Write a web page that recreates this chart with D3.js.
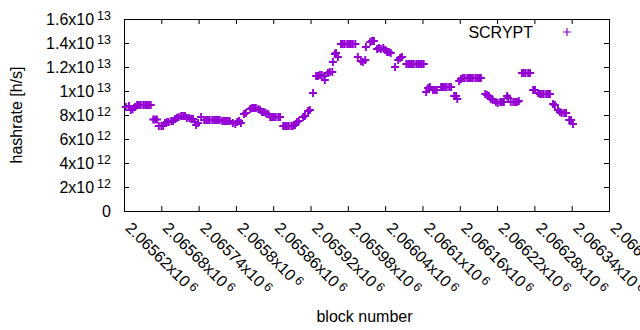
<!DOCTYPE html>
<html>
<head>
<meta charset="utf-8">
<script src="https://cdn.jsdelivr.net/npm/d3@7"></script>
<style>
  body { margin: 0; background: #fff; }
  svg text { font-family: "Liberation Sans", Arial, sans-serif; fill: #000; }
</style>
</head>
<body>
<div id="chart"></div>
<script>
// block numbers and estimated hashrate (in 1e12 h/s)
const blockNumbers = [
  2065623, 2065628, 2065631, 2065634, 2065638,
  2065641, 2065644, 2065647, 2065651, 2065654, 2065657, 2065660, 2065663,
  2065667, 2065670, 2065673,
  2065676, 2065680, 2065683,
  2065686, 2065689, 2065692, 2065696, 2065699,
  2065702, 2065705, 2065708, 2065712, 2065715, 2065718,
  2065721, 2065725, 2065728, 2065731,
  2065734, 2065736, 2065739,
  2065744,
  2065749, 2065752, 2065755, 2065758, 2065762, 2065765, 2065768, 2065771, 2065774, 2065778, 2065781, 2065784, 2065787, 2065790,
  2065795, 2065799, 2065802, 2065805, 2065808,
  2065813, 2065816,
  2065823, 2065826, 2065829, 2065832, 2065836, 2065839,
  2065842, 2065845, 2065848, 2065852,
  2065855, 2065858, 2065861, 2065864, 2065868, 2065871,
  2065876, 2065879, 2065882, 2065885, 2065889, 2065892, 2065895,
  2065898, 2065901,
  2065908, 2065911,
  2065916, 2065919,
  2065924,
  2065929, 2065932, 2065935, 2065938, 2065942, 2065943,
  2065948, 2065951, 2065955,
  2065956, 2065959, 2065961, 2065964,
  2065969, 2065972, 2065975, 2065979, 2065982, 2065985, 2065988, 2065992,
  2065996, 2066001, 2066004, 2066008,
  2066009, 2066016, 2066019, 2066022,
  2066027, 2066030, 2066033, 2066037, 2066040,
  2066043, 2066046, 2066049,
  2066056,
  2066061, 2066064, 2066067,
  2066074, 2066077, 2066080, 2066083, 2066086, 2066090, 2066093, 2066096, 2066099, 2066102,
  2066106, 2066109, 2066112,
  2066117, 2066120, 2066123,
  2066130, 2066133, 2066136, 2066139, 2066143, 2066146,
  2066151, 2066154, 2066156,
  2066159, 2066162, 2066165,
  2066168, 2066172, 2066175, 2066178, 2066181, 2066185, 2066188, 2066191, 2066194,
  2066201, 2066204, 2066207,
  2066210, 2066213,
  2066218, 2066221, 2066225, 2066228, 2066231,
  2066236, 2066238,
  2066242, 2066246, 2066249, 2066252, 2066255,
  2066260, 2066263, 2066266, 2066270, 2066273,
  2066278, 2066281,
  2066286, 2066289, 2066292, 2066295, 2066299, 2066302, 2066305,
  2066310, 2066313,
  2066318, 2066321, 2066324, 2066328, 2066331,
  2066336, 2066339, 2066342
];

const hashrate = [
  8.67, 8.75, 8.42, 8.5, 8.67,
  8.83, 8.83, 8.83, 8.83, 8.83, 8.83, 8.83, 8.83,
  7.62, 7.62, 7.62,
  7.08, 7.08, 7.08,
  7.33, 7.42, 7.42, 7.5, 7.5,
  7.67, 7.75, 7.83, 7.92, 7.92, 7.92,
  7.75, 7.75, 7.67, 7.67,
  7.42, 7.17, 7.33,
  7.83,
  7.58, 7.58, 7.58, 7.58, 7.58, 7.58, 7.58, 7.58, 7.58, 7.5, 7.5, 7.5, 7.5, 7.5,
  7.33, 7.25, 7.42, 7.5, 7.33,
  8.08, 8.17,
  8.5, 8.58, 8.58, 8.58, 8.5, 8.42,
  8.25, 8.25, 8.17, 8.08,
  7.83, 7.83, 7.83, 7.83, 7.83, 7.83,
  7.08, 7.08, 7.08, 7.08, 7.08, 7.08, 7.17,
  7.42, 7.5,
  7.83, 7.92,
  8.33, 8.42,
  9.83,
  11.25, 11.25, 11.33, 11.33, 11.25, 10.92,
  11.5, 11.58, 11.58,
  12.42, 13.08, 13.17, 12.83,
  13.92, 13.92, 13.92, 13.92, 13.92, 13.92, 13.92, 13.92,
  12.83, 12.5, 12.42, 12.58,
  13.67, 14.08, 14.17, 14.17,
  13.5, 13.58, 13.5, 13.58, 13.42,
  13.25, 13.25, 13.17,
  12.0,
  12.58, 12.75, 12.83,
  12.25, 12.25, 12.25, 12.25, 12.25, 12.25, 12.25, 12.25, 12.25, 12.25,
  9.92, 10.25, 10.33,
  10.08, 10.08, 10.08,
  10.33, 10.33, 10.33, 10.33, 10.33, 10.33,
  9.58, 9.58, 9.33,
  10.83, 11.0, 11.08,
  11.08, 11.08, 11.08, 11.08, 11.08, 11.08, 11.08, 11.08, 11.08,
  9.75, 9.67, 9.58,
  9.33, 9.25,
  9.08, 9.0, 9.08, 9.08, 9.08,
  9.58, 9.42,
  9.08, 9.08, 9.08, 9.08, 9.17,
  11.5, 11.5, 11.5, 11.5, 11.5,
  10.08, 10.08,
  9.83, 9.75, 9.75, 9.75, 9.75, 9.75, 9.75,
  8.92, 8.83,
  8.42, 8.25, 8.17, 8.17, 8.17,
  7.58, 7.58, 7.25
];

const xTicks = [2065620, 2065680, 2065740, 2065800, 2065860, 2065920, 2065980,
  2066040, 2066100, 2066160, 2066220, 2066280, 2066340, 2066400];
const yTicks = [0, 2, 4, 6, 8, 10, 12, 14, 16]; // 1e12 h/s
const seriesName = "SCRYPT";

const W = 640, H = 330;
const margin = { top: 19, right: 31, bottom: 119, left: 124 },
    width = W - margin.left - margin.right,
    height = H - margin.top - margin.bottom;
const purple = "#9400d3";
const fontSize = 16, supSize = 12.5;

const svg = d3.select("#chart").append("svg")
    .attr("width", W)
    .attr("height", H);

const g = svg.append("g")
    .attr("transform", `translate(${margin.left},${margin.top})`);

const x = d3.scaleLinear().domain([2065620, 2066400]).range([0, width]);
const y = d3.scaleLinear().domain([0, 16]).range([height, 0]);

// split a number into gnuplot style mantissa / exponent
function sci(v) {
    if (v === 0) return ["0", null];
    const e = Math.floor(Math.log10(v) + 1e-9);
    const m = +(v / Math.pow(10, e)).toFixed(6);
    return [m + "x10", e];
}

// y axis (ticks inward)
const yAxis = g.append("g")
    .call(d3.axisLeft(y).tickValues(yTicks).tickSize(-5).tickPadding(13).tickFormat(""));
yAxis.select(".domain").remove();
yAxis.selectAll(".tick line").attr("stroke", "#000");
yAxis.selectAll(".tick text").each(function (d) {
    const [m, e] = sci(d * 1e12);
    const t = d3.select(this)
        .attr("font-size", fontSize)
        .attr("fill", "#000")
        .attr("dy", "0.35em");
    t.append("tspan").text(m);
    if (e !== null) {
        t.append("tspan")
            .attr("dx", 3)
            .attr("dy", "-0.42em")
            .attr("font-size", supSize)
            .text(e);
    }
});

// mirror ticks on the right
const yRight = g.append("g")
    .attr("transform", `translate(${width},0)`)
    .call(d3.axisRight(y).tickValues(yTicks).tickSize(-5).tickFormat(""));
yRight.select(".domain").remove();

// x axis
const xAxis = g.append("g")
    .attr("transform", `translate(0,${height})`)
    .call(d3.axisBottom(x).tickValues(xTicks).tickSize(-5).tickFormat(""));
xAxis.select(".domain").remove();
xAxis.selectAll(".tick text").each(function (d) {
    const [m, e] = sci(d);
    const t = d3.select(this)
        .attr("font-size", fontSize)
        .attr("fill", "#000")
        .attr("y", null)
        .attr("dy", "0.35em")
        .attr("text-anchor", "start")
        .attr("transform", "translate(4,14) rotate(45)");
    t.append("tspan").text(m);
    t.append("tspan")
        .attr("dx", 3)
        .attr("dy", "-0.3em")
        .attr("font-size", supSize)
        .text(e);
});

// mirror ticks on top
const xTop = g.append("g")
    .call(d3.axisTop(x).tickValues(xTicks).tickSize(-5).tickFormat(""));
xTop.select(".domain").remove();

// frame
g.append("rect")
    .attr("x", 0.5)
    .attr("y", 0.5)
    .attr("width", width)
    .attr("height", height)
    .attr("fill", "none")
    .attr("stroke", "#000")
    .attr("stroke-width", 1);

// points
const plus = "M-4,0H4M0,-4V4";
g.append("g")
    .selectAll("path")
    .data(blockNumbers.map((b, i) => ({ block: b, value: hashrate[i] })))
    .enter().append("path")
    .attr("d", plus)
    .attr("transform", d => `translate(${x(d.block)},${y(d.value)})`)
    .attr("fill", "none")
    .attr("stroke", purple)
    .attr("stroke-width", 1.9);

// legend
const legend = g.append("g").attr("transform", `translate(${width - 76},13)`);
legend.append("text")
    .attr("x", 0)
    .attr("dy", "0.35em")
    .attr("text-anchor", "end")
    .attr("font-size", fontSize)
    .text(seriesName);
legend.append("path")
    .attr("d", plus)
    .attr("transform", "translate(34,0)")
    .attr("fill", "none")
    .attr("stroke", purple)
    .attr("stroke-width", 1.2);

// axis titles
svg.append("text")
    .attr("x", margin.left + width / 2 - 2)
    .attr("y", 322)
    .attr("text-anchor", "middle")
    .attr("font-size", fontSize)
    .text("block number");

svg.append("text")
    .attr("transform", `translate(22,${margin.top + height / 2}) rotate(-90)`)
    .attr("text-anchor", "middle")
    .attr("font-size", fontSize)
    .text("hashrate [h/s]");
</script>
</body>
</html>
